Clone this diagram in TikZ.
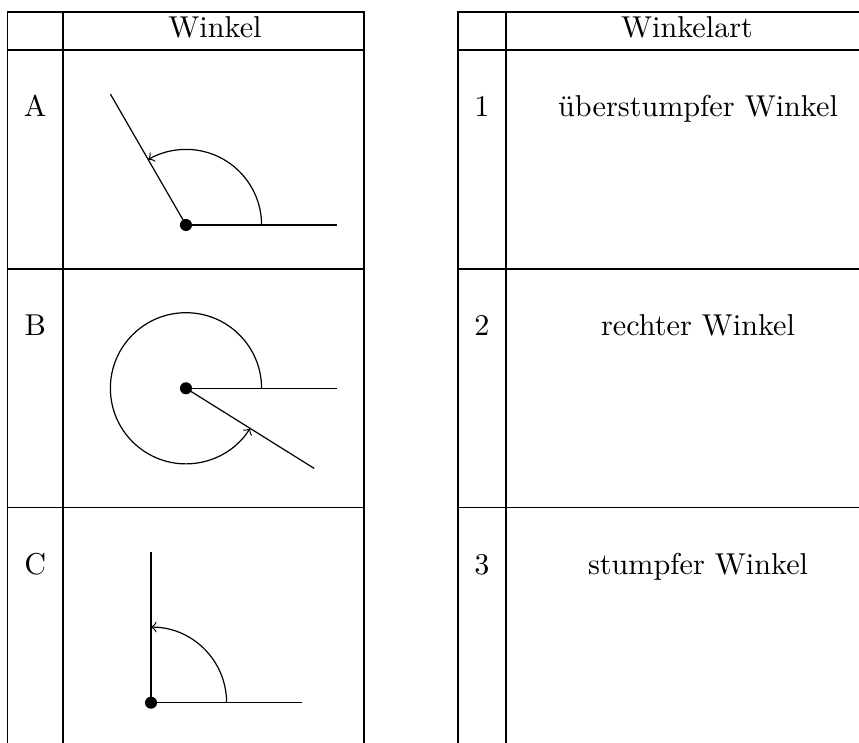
\documentclass[tikz,border=0pt]{standalone}
\usepackage{amsmath}
\usepackage{tikz}

\begin{document}
\begin{tikzpicture}[
	punkt/.style={circle,fill=black,inner sep=0pt,minimum size=4pt},
	eintrag/.style={anchor=base}
]
\clip (0,0) rectangle (10,-8.638);

% Tabelle links
\draw (0.087,-8.8) -- (0.087,-0.14) -- (4.238,-0.14) -- (4.238,-8.8);
\draw (0.733,-0.14) -- (0.733,-8.8);
\foreach \y in {-0.582,-3.132,-5.908}{
	\draw (0.087,\y) -- (4.238,\y);
}

% Tabelle rechts
\draw (5.332,-8.8) -- (5.332,-0.14) -- (10.5,-0.14);
\draw (5.891,-0.14) -- (5.891,-8.8);
\foreach \y in {-0.582,-3.132,-5.908}{
	\draw (5.332,\y) -- (10.5,\y);
}

\node[eintrag] (kopfwinkel) at (2.503,-0.439) {Winkel};
\node[eintrag] (kopfart) at (7.998,-0.439) {Winkelart};

\foreach \b/\n/\t/\y in {A/1/überstumpfer Winkel/-1.358, B/2/rechter Winkel/-3.908, C/3/stumpfer Winkel/-6.684}{
	\node[eintrag] (buchst\b) at (0.41,\y) {\b};
	\node[eintrag] (nr\n) at (5.61,\y) {\n};
	\node[eintrag] (art\n) at (8.126,\y) {\t};
}

% Winkel
\foreach \s/\x/\y/\w in {A/2.165/-2.619/120, B/2.165/-4.520/328, C/1.758/-8.180/90}{
	\coordinate (S\s) at (\x,\y);
	\coordinate (S\s1) at ([shift={(0:1.76)}]S\s);
	\coordinate (S\s2) at ([shift={(\w:1.76)}]S\s);
	\coordinate (S\s0) at ([shift={(0:0.88)}]S\s);
	\draw (S\s) -- (S\s1);
	\draw (S\s) -- (S\s2);
	\draw[->] (S\s0) arc[start angle=0,end angle=\w,radius=0.88];
	\node[punkt] (P\s) at (S\s) {};
}
\end{tikzpicture}
\end{document}
